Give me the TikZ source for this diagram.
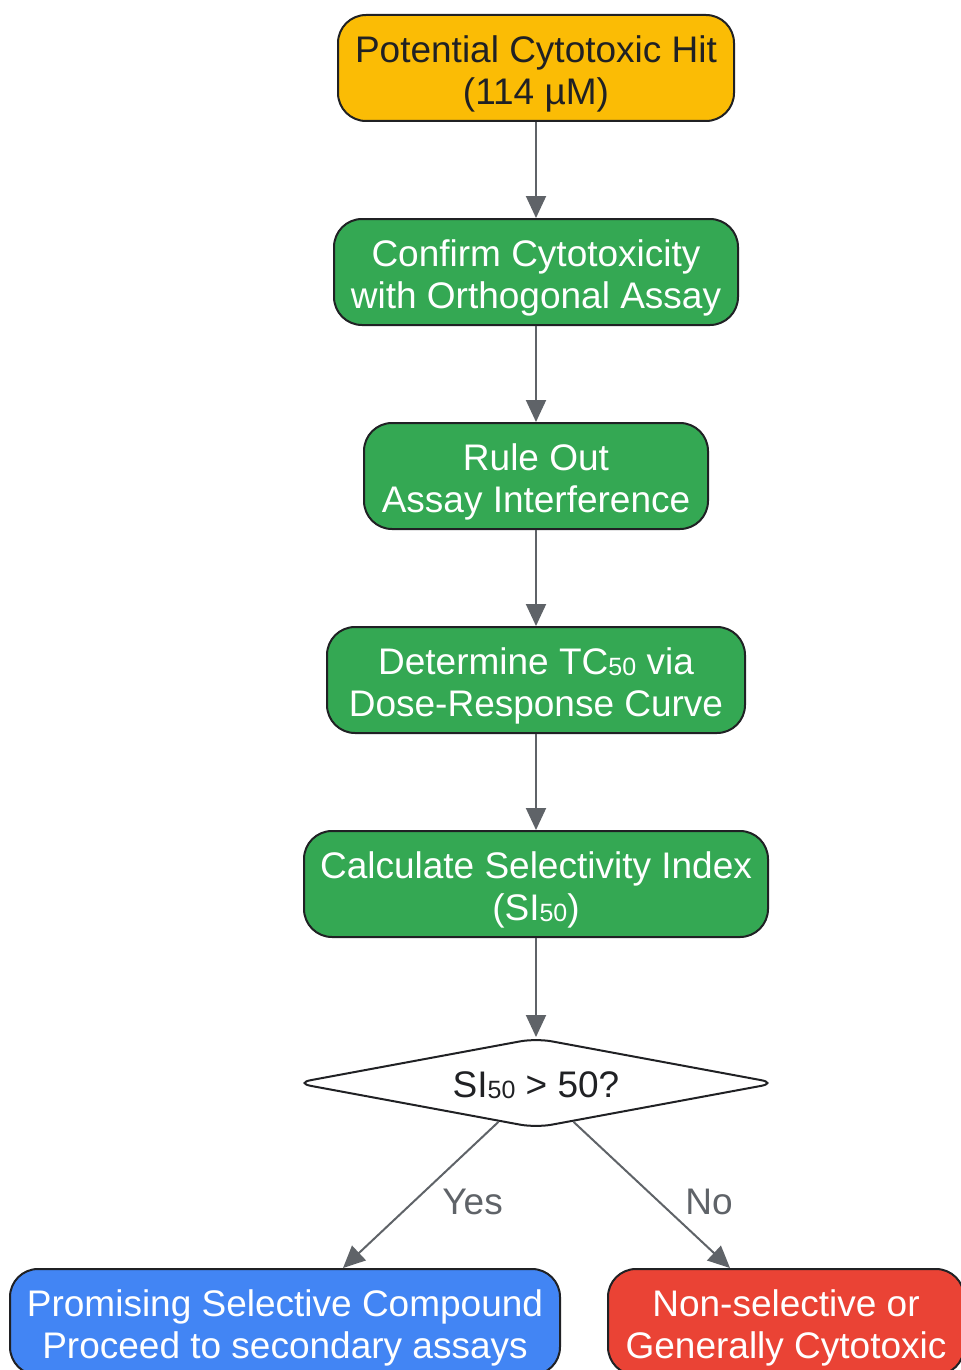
\documentclass[tikz,border=0pt]{standalone}
\usepackage{fontspec}
\setmainfont{Liberation Sans}
\usetikzlibrary{shapes.geometric,arrows.meta,calc}
\definecolor{hitc}{HTML}{FBBC05}
\definecolor{stepc}{HTML}{34A853}
\definecolor{goodc}{HTML}{4285F4}
\definecolor{badc}{HTML}{EA4335}
\definecolor{edgec}{HTML}{202124}
\definecolor{linec}{HTML}{5F6368}
\newcommand{\lowidx}[1]{\raisebox{-0.6pt}{\fontsize{12.5}{12.5}\selectfont #1}}
\newcommand{\topgap}{\rule{0pt}{19.5pt}}
\tikzset{
 box/.style={draw=edgec, line width=1pt, rounded corners=14pt, align=center,
  minimum height=53pt, inner sep=0pt, font=\fontsize{18.5}{21}\selectfont},
 stepbox/.style={box, fill=stepc, text=white},
 ask/.style={draw=edgec, line width=1pt, fill=white, diamond, aspect=5,
  rounded corners=8pt, inner sep=0pt, minimum width=241pt, minimum height=45pt,
  text=edgec, font=\fontsize{18.5}{21}\selectfont},
 flow/.style={draw=linec, line width=1pt, -{Triangle[length=11pt,width=10pt]}},
 tag/.style={text=linec, font=\fontsize{18.5}{21}\selectfont}
}
\begin{document}
\begin{tikzpicture}[x=0.5pt,y=-0.5pt]
 \useasboundingbox (0,0) rectangle (960,1370);
 % main column
 \node[box, fill=hitc, text=edgec, minimum width=198pt] (hit) at (536,68) {\topgap Potential Cytotoxic Hit\\(114 µM)};
 \node[stepbox, minimum width=202pt] (confirm) at (536,272) {\topgap Confirm Cytotoxicity\\with Orthogonal Assay};
 \node[stepbox, minimum width=172pt] (ruleout) at (536,476) {\topgap Rule Out\\Assay Interference};
 \node[stepbox, minimum width=209pt] (tcfifty) at (536,680) {\topgap Determine TC\lowidx{50} via\\Dose-Response Curve};
 \node[stepbox, minimum width=232pt] (sindex) at (536,884) {\topgap Calculate Selectivity Index\\(SI\lowidx{50})};
 \node[ask] (check) at (536,1083) {\rule{0pt}{15.5pt}SI\lowidx{50} > 50?};
 % outcomes
 \node[box, fill=goodc, text=white, minimum width=275pt] (promising) at (285,1322) {\topgap Promising Selective Compound\\Proceed to secondary assays};
 \node[box, fill=badc, text=white, minimum width=178pt] (nonsel) at (786,1322) {\topgap Non-selective or\\Generally Cytotoxic};
 % connectors
 \draw[flow] (check.-134) -- node[tag, midway, right=7pt, yshift=-3.5pt] {Yes} ($(promising.north)+(58,0)$);
 \draw[flow] (check.-46) -- node[tag, midway, right=13pt, yshift=-3.5pt] {No} ($(nonsel.north)+(-56,0)$);
 \draw[flow] (hit) -- (confirm);
 \draw[flow] (confirm) -- (ruleout);
 \draw[flow] (ruleout) -- (tcfifty);
 \draw[flow] (tcfifty) -- (sindex);
 \draw[flow] (sindex) -- (check);
\end{tikzpicture}
\end{document}
